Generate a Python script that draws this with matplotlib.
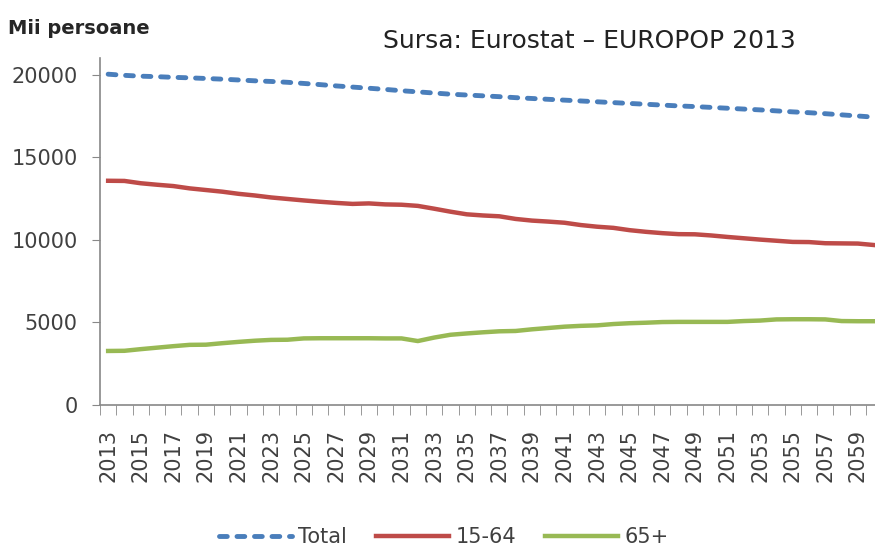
import numpy as np
import matplotlib
matplotlib.use("Agg")
from matplotlib import pyplot as plt

years = list(range(2013, 2061))
total = [20020, 19950, 19900, 19870, 19830, 19800, 19760, 19720, 19670, 19620,
         19580, 19530, 19460, 19390, 19310, 19240, 19170, 19100, 19020, 18950,
         18880, 18810, 18760, 18710, 18660, 18600, 18550, 18500, 18450, 18400,
         18350, 18300, 18250, 18200, 18150, 18100, 18060, 18010, 17960, 17910,
         17860, 17800, 17740, 17690, 17630, 17560, 17490, 17420]
age_15_64 = [13570, 13560, 13420, 13330, 13250, 13110, 13010, 12910, 12780, 12680,
             12560, 12470, 12380, 12300, 12230, 12170, 12200, 12140, 12120, 12050,
             11880, 11700, 11540, 11470, 11420, 11260, 11160, 11100, 11030, 10890,
             10790, 10720, 10580, 10480, 10400, 10340, 10330, 10260, 10170, 10090,
             10010, 9940, 9870, 9860, 9790, 9780, 9770, 9680]
age_65 = [3270, 3280, 3380, 3470, 3560, 3640, 3650, 3740, 3820, 3890,
          3940, 3950, 4030, 4040, 4040, 4040, 4040, 4030, 4030, 3870,
          4080, 4250, 4330, 4400, 4460, 4480, 4580, 4660, 4740, 4790,
          4820, 4900, 4950, 4980, 5020, 5030, 5030, 5030, 5030, 5080,
          5110, 5180, 5190, 5190, 5180, 5080, 5070, 5070]
year_labels = [str(y) for y in range(2013, 2060, 2)]
y_ticks = [0, 5000, 10000, 15000, 20000]

fig = plt.figure(figsize=(8.75, 5.47), dpi=100)
ax = fig.add_axes([100 / 875, 142 / 547, 775 / 875, 347 / 547])

ax.plot(years, total, color='#4A7EBB', lw=3.5, dashes=(1.6, 2.0), dash_capstyle='round', label='Total')
ax.plot(years, age_15_64, color='#BE4B48', lw=3.2, label='15-64')
ax.plot(years, age_65, color='#98B954', lw=3.2, label='65+')

ax.set_xlim(2012.5, 2060.05)
ax.set_ylim(0, 21000)
ax.set_yticks(y_ticks)
ax.set_yticklabels([str(v) for v in y_ticks], fontsize=15, color='#404040')
ax.set_xticks(range(2013, 2060, 2))
ax.set_xticklabels(year_labels, rotation=90, fontsize=15, color='#404040')
ax.set_xticks(np.arange(2012.5, 2060.5, 1), minor=True)
ax.tick_params(axis='x', which='major', length=0, pad=17)
ax.tick_params(axis='x', which='minor', length=7, color='#888888', direction='out')
ax.tick_params(axis='y', length=6, color='#888888', pad=10)

for s in ['top', 'right']:
    ax.spines[s].set_visible(False)
for s in ['left', 'bottom']:
    ax.spines[s].set_color('#888888')
    ax.spines[s].set_linewidth(1.2)

fig.text(8 / 875, 1 - 34 / 547, 'Mii persoane', fontsize=14, fontweight='bold', color='#262626')
fig.text(383 / 875, 1 - 48 / 547, 'Sursa: Eurostat \u2013 EUROPOP 2013', fontsize=18,
         color='#222222')

fig.legend(loc='lower center', bbox_to_anchor=(0.507, -0.035), ncol=3, frameon=False,
           fontsize=15, handlelength=3.5, columnspacing=1.4, handletextpad=0.3,
           labelcolor='#404040')

fig.savefig('out.png', dpi=100)
